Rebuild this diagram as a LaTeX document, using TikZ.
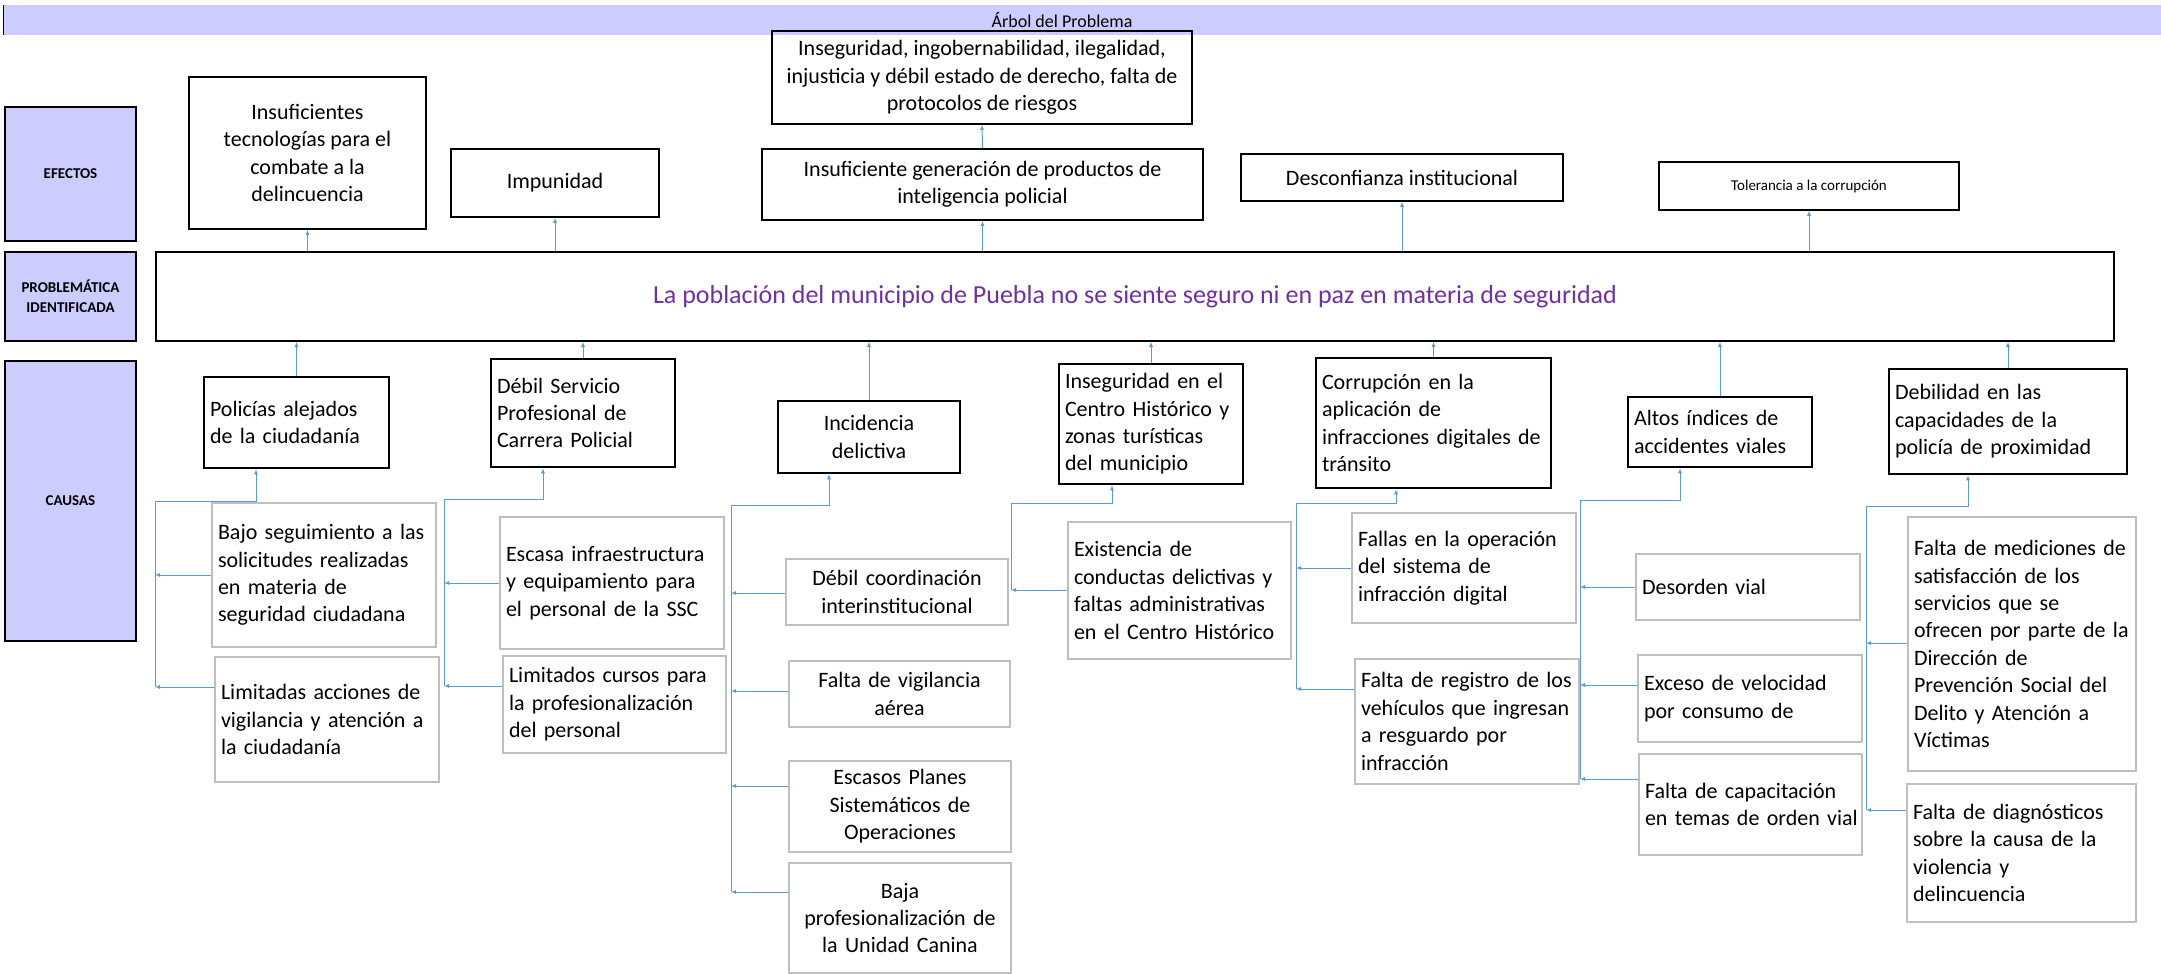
\documentclass[tikz,border=0pt]{standalone}
\usepackage{fontspec}
\setmainfont{Carlito}
\usetikzlibrary{arrows.meta}
\definecolor{lavanda}{HTML}{CCCCFF}
\definecolor{azul}{HTML}{5B9BD5}
\definecolor{gris}{HTML}{BFBFBF}
\definecolor{morado}{HTML}{7030A0}
\newcommand\letra[0]{\fontsize{22}{27.4}\selectfont}

\begin{document}
\begin{tikzpicture}[x=1pt,y=-1pt,
  etiqueta/.style={draw=black,fill=lavanda,line width=1.5pt,minimum width=131pt,font=\bfseries\fontsize{15}{20}\selectfont,align=center,inner sep=0pt},
  efecto/.style={draw=black,line width=1.5pt,font=\letra,align=center,inner sep=0pt},
  causa/.style={draw=black,line width=2.5pt,font=\letra,align=left,inner xsep=6pt,inner ysep=0pt},
  subcausa/.style={draw=gris,line width=1.5pt,font=\letra,align=left,inner xsep=6pt,inner ysep=0pt},
  flecha/.style={azul,line width=1pt,-{Latex[length=5pt,width=4pt]}}]

\useasboundingbox (0,0) rectangle (2161,974);

\fill[lavanda] (3,5) rectangle (2161,35);
\draw[black,line width=1pt] (3,5) -- (3,35);
\node[font=\fontsize{18}{22}\selectfont] (titulo) at (1062,20) {Árbol del Problema};

\node[etiqueta,minimum height=134pt] (lefectos) at (70.5,174) {EFECTOS};
\node[etiqueta,minimum height=89pt] (lproblema) at (70.5,296.5) {PROBLEMÁTICA\\IDENTIFICADA};
\node[etiqueta,minimum height=280pt] (lcausas) at (70.5,501) {CAUSAS};

% efectos
\node[efecto,minimum width=237pt,minimum height=152pt] (ef1) at (307.5,153) {Insuficientes\\tecnologías para el\\combate a la\\delincuencia};
\node[efecto,minimum width=208pt,minimum height=68pt] (ef2) at (555,183) {Impunidad};
\node[efecto,minimum width=420pt,minimum height=93pt] (ef3) at (982,77.5) {Inseguridad, ingobernabilidad, ilegalidad,\\injusticia y débil estado de derecho, falta de\\protocolos de riesgos};
\node[efecto,minimum width=441pt,minimum height=71pt] (ef4) at (982.5,184.5) {Insuficiente generación de productos de\\inteligencia policial};
\node[efecto,minimum width=322pt,minimum height=47pt] (ef5) at (1402,177.5) {Desconfianza institucional};
\node[efecto,minimum width=300pt,minimum height=48pt,font=\fontsize{15}{18}\selectfont] (ef6) at (1809,186) {Tolerancia a la corrupción};

% problema
\node[draw=black,line width=1.5pt,minimum width=1958pt,minimum height=89pt,text=morado,font=\fontsize{26}{31}\selectfont] (pb) at (1135,296.5) {La población del municipio de Puebla no se siente seguro ni en paz en materia de seguridad};

% causas
\node[causa,text width=173pt,minimum height=91pt] (ca1) at (296.5,422.5) {Policías alejados\\de la ciudadanía};
\node[causa,text width=172pt,minimum height=108pt] (ca2) at (583,413) {Débil Servicio\\Profesional de\\Carrera Policial};
\node[causa,text width=170pt,minimum height=72pt,align=center] (ca3) at (869,437) {Incidencia\\delictiva};
\node[causa,text width=172pt,minimum height=120pt] (ca4) at (1151,424) {Inseguridad en el\\Centro Histórico y\\zonas turísticas\\del municipio};
\node[causa,text width=223pt,minimum height=130pt] (ca5) at (1433.5,423) {Corrupción en la\\aplicación de\\infracciones digitales de\\tránsito};
\node[causa,text width=172pt,minimum height=70pt] (ca6) at (1720,432) {Altos índices de\\accidentes viales};
\node[causa,text width=226pt,minimum height=105pt] (ca7) at (2008,421.5) {Debilidad en las\\capacidades de la\\policía de proximidad};

% subcausas
\node[subcausa,text width=212pt,minimum height=144pt] (s11) at (324,575) {Bajo seguimiento a las\\solicitudes realizadas\\en materia de\\seguridad ciudadana};
\node[subcausa,text width=212pt,minimum height=125pt] (s12) at (327,719.5) {Limitadas acciones de\\vigilancia y atención a\\la ciudadanía};
\node[subcausa,text width=212pt,minimum height=132pt] (s21) at (612,583) {Escasa infraestructura\\y equipamiento para\\el personal de la SSC};
\node[subcausa,text width=211pt,minimum height=97pt] (s22) at (614.5,704.5) {Limitados cursos para\\la profesionalización\\del personal};
\node[subcausa,text width=210pt,minimum height=66pt,align=center] (s31) at (897,592) {Débil coordinación\\interinstitucional};
\node[subcausa,text width=209pt,minimum height=66pt,align=center] (s32) at (899.5,694) {Falta de vigilancia\\aérea};
\node[subcausa,text width=210pt,minimum height=91pt,align=center] (s33) at (900,806.5) {Escasos Planes\\Sistemáticos de\\Operaciones};
\node[subcausa,text width=210pt,minimum height=110pt,align=center] (s34) at (900,918) {Baja\\profesionalización de\\la Unidad Canina};
\node[subcausa,text width=211pt,minimum height=137pt] (s41) at (1179.5,590.5) {Existencia de\\conductas delictivas y\\faltas administrativas\\en el Centro Histórico};
\node[subcausa,text width=212pt,minimum height=110pt] (s51) at (1464,568) {Fallas en la operación\\del sistema de\\infracción digital};
\node[subcausa,text width=212pt,minimum height=125pt] (s52) at (1467,721.5) {Falta de registro de los\\vehículos que ingresan\\a resguardo por\\infracción};
\node[subcausa,text width=212pt,minimum height=66pt] (s61) at (1748,587) {Desorden vial};
\node[subcausa,text width=212pt,minimum height=87pt] (s62) at (1750,698.5) {Exceso de velocidad\\por consumo de};
\node[subcausa,text width=217pt,inner xsep=3pt,minimum height=101pt] (s63) at (1750.5,804.5) {\hspace*{3pt}Falta de capacitación\\\hspace*{3pt}en temas de orden vial};
\node[subcausa,text width=216pt,minimum height=254pt] (s71) at (2022,644) {Falta de mediciones de\\satisfacción de los\\servicios que se\\ofrecen por parte de la\\Dirección de\\Prevención Social del\\Delito y Atención a\\Víctimas};
\node[subcausa,text width=217pt,minimum height=138pt] (s72) at (2021.5,853) {Falta de diagnósticos\\sobre la causa de la\\violencia y\\delincuencia};

% problema -> efectos
\draw[flecha] (ef1.south |- pb.north) -- (ef1.south);
\draw[flecha] (ef2.south |- pb.north) -- (ef2.south);
\draw[flecha] (ef4.south |- pb.north) -- (ef4.south);
\draw[flecha] (ef4.north) -- (ef3.south);
\draw[flecha] (ef5.south |- pb.north) -- (ef5.south);
\draw[flecha] (ef6.south |- pb.north) -- (ef6.south);

% causas -> problema
\draw[flecha] (ca1.north) -- (ca1.north |- pb.south);
\draw[flecha] (ca2.north) -- (ca2.north |- pb.south);
\draw[flecha] (ca3.north) -- (ca3.north |- pb.south);
\draw[flecha] (ca4.north) -- (ca4.north |- pb.south);
\draw[flecha] (ca5.north) -- (ca5.north |- pb.south);
\draw[flecha] (ca6.north) -- (ca6.north |- pb.south);
\draw[flecha] (ca7.north) -- (ca7.north |- pb.south);

% troncos de subcausas
\coordinate (g1) at (155,501);  \coordinate (k1) at (256,501);
\coordinate (g2) at (444,499);  \coordinate (k2) at (543,499);
\coordinate (g3) at (731,505);  \coordinate (k3) at (829,505);
\coordinate (g4) at (1011,503); \coordinate (k4) at (1112,503);
\coordinate (g5) at (1296,503); \coordinate (k5) at (1396,503);
\coordinate (g6) at (1580,500); \coordinate (k6) at (1680,500);
\coordinate (g7) at (1866,506); \coordinate (k7) at (1968,506);

\coordinate (j11) at (155,575);  \coordinate (j12) at (155,687);
\coordinate (j21) at (444,583);  \coordinate (j22) at (444,686);
\coordinate (j31) at (731,593);  \coordinate (j32) at (731,691);
\coordinate (j33) at (731,786);  \coordinate (j34) at (731,892);
\coordinate (j41) at (1011,590);
\coordinate (j51) at (1296,568); \coordinate (j52) at (1296,689);
\coordinate (j61) at (1580,587); \coordinate (j62) at (1580,685);
\coordinate (j63) at (1580,779);
\coordinate (j71) at (1866,643); \coordinate (j72) at (1866,810);

\draw[flecha] (j12) -- (g1) -- (k1) -- (k1 |- ca1.south);
\draw[flecha] (j22) -- (g2) -- (k2) -- (k2 |- ca2.south);
\draw[flecha] (j34) -- (g3) -- (k3) -- (k3 |- ca3.south);
\draw[flecha] (j41) -- (g4) -- (k4) -- (k4 |- ca4.south);
\draw[flecha] (j52) -- (g5) -- (k5) -- (k5 |- ca5.south);
\draw[flecha] (j63) -- (g6) -- (k6) -- (k6 |- ca6.south);
\draw[flecha] (j72) -- (g7) -- (k7) -- (k7 |- ca7.south);

\foreach \s in {11,12,21,22,31,32,33,34,41,51,52,61,62,63,71,72}
  \draw[flecha] (j\s -| s\s.west) -- (j\s);

\end{tikzpicture}
\end{document}
